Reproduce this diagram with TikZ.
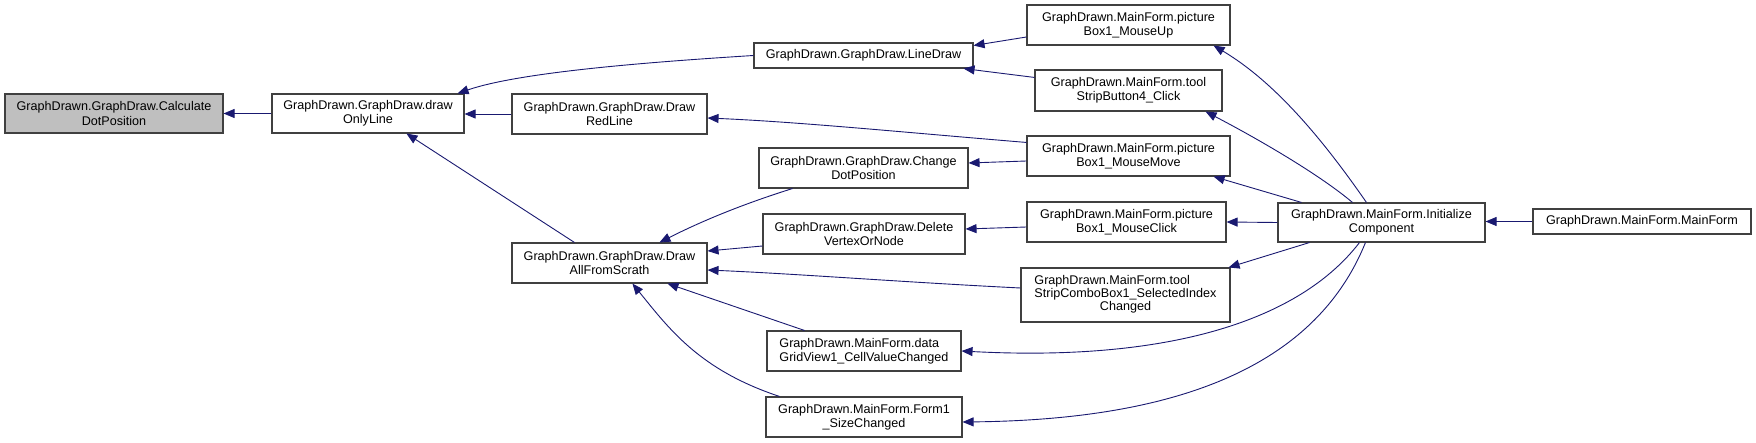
\documentclass[tikz,border=0pt]{standalone}
\usepackage{fontspec}
\setmainfont{Liberation Sans}
\usetikzlibrary{arrows.meta,calc}
\definecolor{edgeblue}{HTML}{191970}
\definecolor{boxline}{HTML}{404040}
\definecolor{boxgray}{HTML}{BFBFBF}
\tikzset{
  fn/.style={draw=boxline, line width=1.1pt, fill=white, inner sep=0pt, align=center,
    font=\fontsize{12.6pt}{14.3pt}\selectfont, text=black},
  call/.style={draw=edgeblue, line width=0.9pt, -{Triangle[length=11pt,width=9pt]}},
}
\begin{document}
\begin{tikzpicture}[x=1pt,y=-1pt]
\useasboundingbox (0,0) rectangle (1756,443);
% nodes
\node[fn, fill=boxgray, minimum width=218pt, minimum height=39pt] (CDP) at (114,113.5) {GraphDrawn.GraphDraw.Calculate\\DotPosition};
\node[fn, minimum width=192pt, minimum height=39pt] (DOL) at (368,113.5) {GraphDrawn.GraphDraw.draw\\OnlyLine};
\node[fn, minimum width=219pt, minimum height=25pt] (LD) at (863.5,55.5) {GraphDrawn.GraphDraw.LineDraw};
\node[fn, minimum width=195pt, minimum height=40pt] (DRL) at (609.5,114) {GraphDrawn.GraphDraw.Draw\\RedLine};
\node[fn, minimum width=209pt, minimum height=40pt] (CHG) at (863.5,168) {GraphDrawn.GraphDraw.Change\\DotPosition};
\node[fn, minimum width=202pt, minimum height=40pt] (DEL) at (864,234) {GraphDrawn.GraphDraw.Delete\\VertexOrNode};
\node[fn, minimum width=195pt, minimum height=40pt] (DAS) at (609.5,263) {GraphDrawn.GraphDraw.Draw\\AllFromScrath};
\node[fn, align=left, minimum width=194pt, minimum height=40pt] (DGV) at (864,351) {GraphDrawn.MainForm.data\\GridView1\_CellValueChanged};
\node[fn, minimum width=196pt, minimum height=40pt] (FSC) at (864,417) {GraphDrawn.MainForm.Form1\\\_SizeChanged};
\node[fn, minimum width=203pt, minimum height=40pt] (PMU) at (1128.5,25) {GraphDrawn.MainForm.picture\\Box1\_MouseUp};
\node[fn, minimum width=187pt, minimum height=41pt] (TSB) at (1128.5,90.5) {GraphDrawn.MainForm.tool\\StripButton4\_Click};
\node[fn, minimum width=203pt, minimum height=40pt] (PMM) at (1128.5,156) {GraphDrawn.MainForm.picture\\Box1\_MouseMove};
\node[fn, minimum width=199pt, minimum height=40pt] (PMC) at (1126.5,222) {GraphDrawn.MainForm.picture\\Box1\_MouseClick};
\node[fn, minimum width=209pt, minimum height=54pt] (TSC) at (1125.5,295) {\renewcommand{\arraystretch}{0.93}\begin{tabular}{@{}l@{}}GraphDrawn.MainForm.tool\\StripComboBox1\_SelectedIndex\\\multicolumn{1}{@{}c@{}}{Changed}\end{tabular}};
\node[fn, minimum width=207pt, minimum height=39pt] (IC) at (1381.5,222.5) {GraphDrawn.MainForm.Initialize\\Component};
\node[fn, minimum width=218pt, minimum height=25pt] (MF) at (1642,221.5) {GraphDrawn.MainForm.MainForm};
% edges
\draw[call] (DOL.west) -- (CDP.east);
\draw[call] (DRL.west) -- (DRL.west -| DOL.east);
\draw[call] (LD.west) .. controls (650,62) and (520,72) .. ($(DOL.north east)+(-7,0)$);
\draw[call] ($(DAS.north west)+(63,0)$) -- ($(DOL.south west)+(135,0)$);
\draw[call] ($(CHG.south west)+(34,0)$) .. controls (740,205) and (700,222) .. ($(DAS.north west)+(148,0)$);
\draw[call] ($(DEL.west)+(0,12)$) -- ($(DAS.east)+(0,-12)$);
\draw[call] ($(TSC.west)+(0,-7)$) .. controls (900,282) and (800,274) .. ($(DAS.east)+(0,7)$);
\draw[call] ($(DGV.north west)+(38,0)$) -- ($(DAS.south west)+(156,0)$);
\draw[call] ($(FSC.north west)+(14,0)$) .. controls (700,370) and (670,330) .. ($(DAS.south west)+(121,0)$);
\draw[call] ($(PMU.west)+(0,12)$) -- ($(LD.east)+(0,-10)$);
\draw[call] ($(TSB.north west)+(0,8)$) -- ($(LD.south east)+(-10,0)$);
\draw[call] ($(PMM.north west)+(0,7)$) .. controls (900,132) and (800,122) .. ($(DRL.east)+(0,4)$);
\draw[call] ($(PMM.west)+(0,5)$) -- ($(CHG.east)+(0,-5)$);
\draw[call] ($(PMC.west)+(0,5)$) -- ($(DEL.east)+(0,-5)$);
\draw[call] ($(IC.north west)+(89,0)$) .. controls (1330,150) and (1280,85) .. ($(PMU.south east)+(-17,0)$);
\draw[call] ($(IC.north west)+(75,0)$) .. controls (1320,175) and (1260,140) .. ($(TSB.south east)+(-17,0)$);
\draw[call] ($(IC.north west)+(24,0)$) -- ($(PMM.south east)+(-17,0)$);
\draw[call] (IC.west) -- (PMC.east);
\draw[call] ($(IC.south west)+(32,0)$) -- ($(TSC.north east)+(-2,0)$);
\draw[call] ($(IC.south west)+(82,0)$) .. controls (1300,320) and (1170,362) .. (DGV.east);
\draw[call] ($(IC.south west)+(88,0)$) .. controls (1310,380) and (1150,420) .. ($(FSC.east)+(0,5)$);
\draw[call] (MF.west) -- (MF.west -| IC.east);
\end{tikzpicture}
\end{document}
